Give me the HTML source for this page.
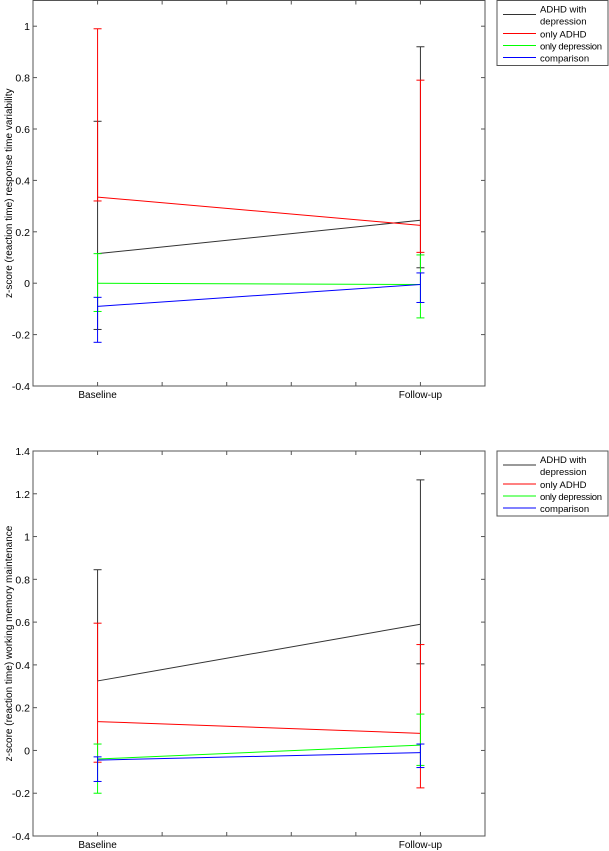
<!DOCTYPE html>
<html><head><meta charset="utf-8"><style>
body{margin:0;background:#fff;width:609px;height:851px;overflow:hidden}
svg{display:block;font-family:"Liberation Sans",Arial,sans-serif}
</style></head><body>
<svg id="s" width="609" height="851" viewBox="0 0 609 851" xmlns="http://www.w3.org/2000/svg"></svg>
<script>
const groups = ["ADHD with depression","only ADHD","only depression","comparison"];
const xLabels = ["Baseline","Follow-up"];
const colors = ["#333333","#ff0000","#00ff00","#0000ff"];
// top chart data: [baseline, follow-up]
const topMeans = [[0.115,0.245],[0.335,0.225],[0.0,-0.005],[-0.09,-0.005]];
const topUpper = [[0.63,0.92],[0.99,0.79],[0.115,0.11],[-0.055,0.04]];
const topLower = [[-0.18,0.06],[0.32,0.12],[-0.11,-0.135],[-0.23,-0.075]];
const topTicks = [-0.4,-0.2,0,0.2,0.4,0.6,0.8,1];
const botMeans = [[0.325,0.59],[0.135,0.08],[-0.04,0.025],[-0.045,-0.01]];
const botUpper = [[0.845,1.265],[0.595,0.495],[0.03,0.17],[-0.03,0.03]];
const botLower = [[0.325,0.405],[-0.055,-0.175],[-0.2,-0.07],[-0.145,-0.08]];
const botTicks = [-0.4,-0.2,0,0.2,0.4,0.6,0.8,1,1.2,1.4];

const NS="http://www.w3.org/2000/svg";
const svg=document.getElementById('s');
function mk(tag,attrs,parent,name,text){
  const e=document.createElementNS(NS,tag);
  for(const k in attrs)e.setAttribute(k,attrs[k]);
  
  
  if(text!==undefined)e.textContent=text;
  parent.appendChild(e);return e;
}
function chart(prefix,L,R,T,B,ymin,ymax,ticks,means,upper,lower,title,legTop){
  const g=mk('g',{},svg,prefix+'-chart');
  const xs=v=>L+(v-0.8)/(2.2-0.8)*(R-L);
  const ys=v=>B-(v-ymin)/(ymax-ymin)*(B-T);
  mk('rect',{x:L,y:T,width:R-L,height:B-T,fill:'none',stroke:'#555','stroke-width':1},g,prefix+'-axes-box');
  ticks.forEach(t=>{
    const y=ys(t);
    mk('line',{x1:L,x2:L+4,y1:y,y2:y,stroke:'#555'},g,prefix+'-y-tick');
    mk('line',{x1:R,x2:R-4,y1:y,y2:y,stroke:'#555'},g,prefix+'-y-tick-right');
    mk('text',{x:L-3,y:y+4,'font-size':10.5,'text-anchor':'end',fill:'#000'},g,prefix+'-y-tick-label',String(t));
  });
  for(let i=0;i<=7;i++){
    const x=xs(0.8+i*0.2);
    mk('line',{x1:x,x2:x,y1:B,y2:B-4,stroke:'#555'},g,prefix+'-x-tick');
    mk('line',{x1:x,x2:x,y1:T,y2:T+4,stroke:'#555'},g,prefix+'-x-tick-top');
  }
  xLabels.forEach((l,i)=>mk('text',{x:xs(i+1),y:B+12,'font-size':10,'text-anchor':'middle'},g,prefix+'-x-label',l));
  const cy=(T+B)/2;
  mk('text',{x:12,y:cy,'font-size':10,'text-anchor':'middle',transform:`rotate(-90 12 ${cy})`},g,prefix+'-y-axis-title',title);
  groups.forEach((gr,k)=>{
    const c=colors[k];
    mk('line',{x1:xs(1),y1:ys(means[k][0]),x2:xs(2),y2:ys(means[k][1]),stroke:c,'stroke-width':1},g,prefix+'-series-line');
    [0,1].forEach(i=>{
      const x=xs(i+1);
      mk('line',{x1:x,x2:x,y1:ys(upper[k][i]),y2:ys(lower[k][i]),stroke:c},g,prefix+'-error-bar');
      mk('line',{x1:x-4,x2:x+4,y1:ys(upper[k][i]),y2:ys(upper[k][i]),stroke:c},g,prefix+'-error-cap');
      if(lower[k][i]!==means[k][i]) mk('line',{x1:x-4,x2:x+4,y1:ys(lower[k][i]),y2:ys(lower[k][i]),stroke:c},g,prefix+'-error-cap');
    });
  });
  const lg=mk('g',{},g,prefix+'-legend');
  mk('rect',{x:497,y:legTop,width:111,height:65,fill:'#fff',stroke:'#555'},lg,prefix+'-legend-box');
  const rows=[legTop+14,legTop+33,legTop+45,legTop+57];
  groups.forEach((gr,k)=>{
    mk('line',{x1:503,x2:536,y1:rows[k],y2:rows[k],stroke:colors[k]},lg,prefix+'-legend-swatch');
    if(k===0){
      mk('text',{x:540,y:legTop+12,'font-size':9.5},lg,prefix+'-legend-entry','ADHD with');
      mk('text',{x:540,y:legTop+24,'font-size':9.5},lg,prefix+'-legend-entry','depression');
    } else mk('text',{x:540,y:rows[k]+4,'font-size':9.5,textLength:gr==='only depression'?62:undefined},lg,prefix+'-legend-entry',gr);
  });
  lg.querySelectorAll('text').forEach(t=>{if(t.getAttribute('textLength')==='undefined')t.removeAttribute('textLength');});
}
chart('top',33,485,0.5,386,-0.4,1.1,topTicks,topMeans,topUpper,topLower,'z-score (reaction time) response time variability',0.5);
chart('bottom',33,485,451,836,-0.4,1.4,botTicks,botMeans,botUpper,botLower,'z-score (reaction time) working memory maintenance',451);
</script>
</body></html>
